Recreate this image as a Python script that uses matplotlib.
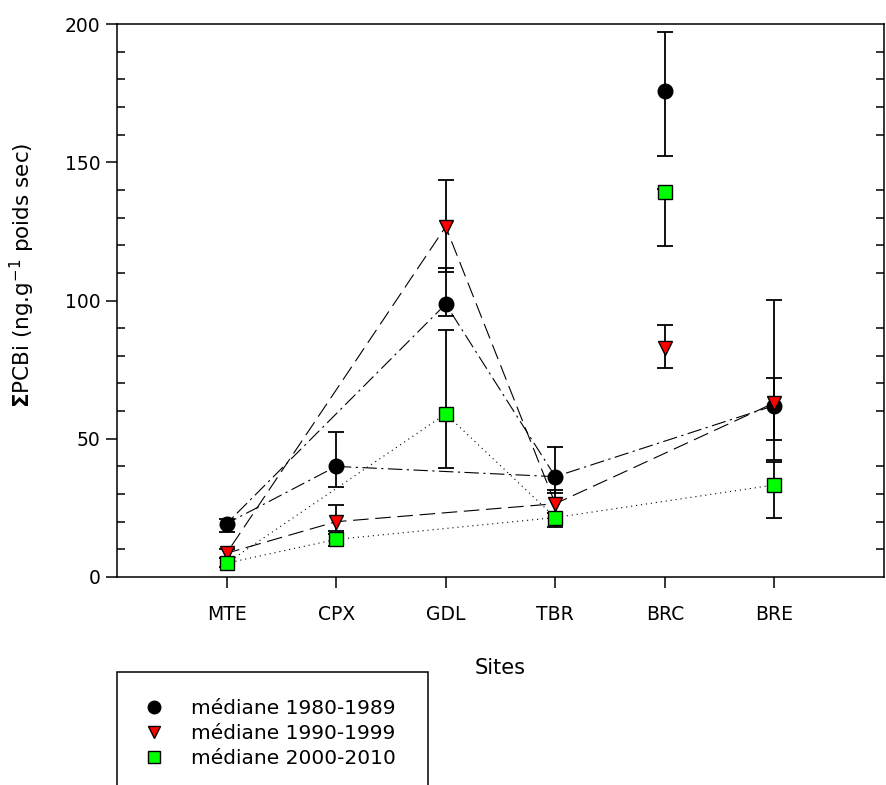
import matplotlib
matplotlib.use("Agg")
import matplotlib.pyplot as plt
from matplotlib.lines import Line2D
from matplotlib.patches import Rectangle
from matplotlib.ticker import MultipleLocator

plt.rcParams['font.family'] = ['DejaVu Sans']

sites = ['MTE', 'CPX', 'GDL', 'TBR', 'BRC', 'BRE']
# median values and error limits (lower, upper) per decade
med_80 = [19.3, 40.0, 98.7, 36.3, 175.9, 62.0]
low_80 = [16.4, 32.7, 94.5, 30.3, 152.1, 49.5]
high_80 = [21.0, 52.3, 111.9, 47.1, 197.0, 71.8]
med_90 = [8.6, 20.0, 126.7, 26.5, 82.7, 63.0]
low_90 = [7.0, 16.7, 110.4, 23.0, 75.7, 42.3]
high_90 = [10.0, 25.9, 143.5, 31.5, 91.1, 100.2]
med_00 = [5.0, 13.6, 59.0, 21.5, 139.1, 33.3]
low_00 = [3.5, 11.3, 39.3, 18.2, 119.7, 21.5]
high_00 = [7.0, 15.5, 89.4, 23.0, 140.5, 41.6]
# order in which the connecting lines were drawn
line_order = ['TBR', 'GDL', 'MTE', 'CPX', 'TBR', 'BRE']
labels = ['médiane 1980-1989', 'médiane 1990-1999', 'médiane 2000-2010']

W, H = 887, 785
fig = plt.figure(figsize=(W / 100, H / 100), dpi=100)
ax = fig.add_axes([117/W, 1-577/H, (884-117)/W, (577-24)/H])

xpos = {s: i + 1 for i, s in enumerate(sites)}
series = [
    (med_80, low_80, high_80, 'o', 'black', 10.5, (0, (13, 4, 2, 4))),
    (med_90, low_90, high_90, 'v', 'red', 10.5, (0, (14, 6))),
    (med_00, low_00, high_00, 's', '#00ff00', 9.5, (0, (1, 3.5))),
]

handles = []
for (med, lo, hi, mk, col, ms, ls), lab in zip(series, labels):
    lx = [xpos[s] for s in line_order]
    ly = [med[sites.index(s)] for s in line_order]
    ax.plot(lx, ly, color='black', lw=0.8, linestyle=ls, zorder=2)
    x = [xpos[s] for s in sites]
    yerr = [[m - l for m, l in zip(med, lo)], [h - m for m, h in zip(med, hi)]]
    ax.errorbar(x, med, yerr=yerr, fmt='none', ecolor='black', elinewidth=1.3,
                capsize=6, capthick=1.3, zorder=3)
    ax.plot(x, med, linestyle='none', marker=mk, ms=ms, mfc=col,
            mec='black', mew=1.0, zorder=4)
    handles.append(Line2D([], [], linestyle='none', marker=mk, ms=ms - 1.5,
                          mfc=col, mec='black', mew=1.0, label=lab))

ax.set_xlim(0, 7)
ax.set_ylim(0, 200)
ax.set_xticks(range(1, 7))
ax.set_xticklabels(sites)
ax.yaxis.set_major_locator(MultipleLocator(50))
ax.yaxis.set_minor_locator(MultipleLocator(10))
ax.tick_params(axis='x', direction='out', length=8, width=1.1, labelsize=13.5, pad=12)
ax.tick_params(axis='y', which='major', direction='out', length=8, width=1.1,
               labelsize=13.5, pad=4)
ax.tick_params(axis='y', which='minor', direction='in', length=6, width=1.1,
               right=True)
for sp in ax.spines.values():
    sp.set_linewidth(1.1)

ax.set_xlabel('Sites', fontsize=15)
ax.xaxis.set_label_coords(0.5, (577 - 658) / 553)
ax.set_ylabel(r'$\mathbf{\Sigma}$PCBi (ng.g$^{-1}$ poids sec)', fontsize=15.5)
ax.yaxis.set_label_coords((37 - 117) / 767, (577 - 275) / 553)

# legend box (extends below the figure edge as in the original)
fig.add_artist(Rectangle((117/W, 1-800/H), (428-117)/W, (800-672)/H,
                         transform=fig.transFigure, fill=False,
                         edgecolor='black', linewidth=1.1))
leg = fig.legend(handles=handles, loc='upper left',
                 bbox_to_anchor=(117/W, 1-682/H), fontsize=14.5,
                 frameon=False, borderpad=0.85, handlelength=2.0,
                 handletextpad=0.8, labelspacing=0.3, borderaxespad=0)

fig.savefig('out.png', dpi=100)
